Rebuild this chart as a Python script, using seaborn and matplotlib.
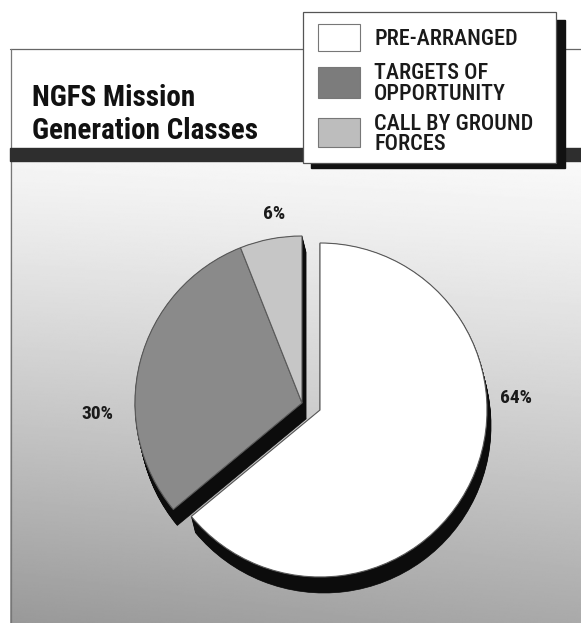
import numpy as np
import matplotlib
matplotlib.use("Agg")
import matplotlib.pyplot as plt
from matplotlib.patches import Rectangle
import seaborn as sns

# ---- data ----
categories = ["PRE-ARRANGED", "TARGETS OF\nOPPORTUNITY", "CALL BY GROUND\nFORCES"]
shares = [64, 30, 6]
pct_labels = ["64%", "30%", "6%"]
slice_colors = ["#ffffff", "#8a8a8a", "#c6c6c6"]
swatch_colors = ["#ffffff", "#7c7c7c", "#bdbdbd"]
title_lines = ["NGFS Mission", "Generation Classes"]

sns.set_theme(style="white")
plt.rcParams["font.family"] = ["Liberation Sans", "DejaVu Sans"]
TITLE_FONT = ["Roboto Condensed", "Barlow Condensed", "DejaVu Sans"]
LEG_FONT = ["Roboto Condensed", "Archivo Narrow", "Barlow Condensed", "DejaVu Sans"]

W, H = 581, 623
fig = plt.figure(figsize=(W / 100, H / 100), dpi=100)
fig.patch.set_facecolor("white")

# background axes in pixel coordinates
bg = fig.add_axes([0, 0, 1, 1])
bg.set_xlim(0, W)
bg.set_ylim(H, 0)
bg.axis("off")

# gradient panel
ys = np.linspace(0, 1, 300)[:, None]
xs = np.linspace(0, 1, 300)[None, :]
grad = 0.975 - 0.31 * ys ** 1.15 - 0.05 * (1 - xs) * (0.3 + ys)
bg.imshow(grad, extent=(10, W, H, 161), cmap="gray", vmin=0, vmax=1,
          aspect="auto", origin="upper", interpolation="bilinear", zorder=0)

# panel frame
bg.plot([10, W], [49, 49], color="#666666", lw=0.9, zorder=1)
bg.plot([10.5, 10.5], [49, H], color="#777777", lw=0.9, zorder=1)
bg.add_patch(Rectangle((10, 148), W - 10, 13, color="#2e2e2e", zorder=1))

# title
for i, line in enumerate(title_lines):
    bg.text(32, 106 + i * 33, line, fontsize=21, fontweight=900,
            family=TITLE_FONT, va="baseline", ha="left", color="#111111", zorder=2)

# legend with drop shadow
bg.add_patch(Rectangle((311, 20), 254, 148, color="#111111", zorder=3))
bg.add_patch(Rectangle((303, 12), 253, 151, facecolor="white",
                       edgecolor="#555555", lw=0.9, zorder=4))
sw_boxes = [(24, 27), (67, 31), (118, 29)]
text_baselines = [[45], [79, 100], [130, 150]]
for cat, col, (sy, sh), bls in zip(categories, swatch_colors, sw_boxes, text_baselines):
    bg.add_patch(Rectangle((318, sy), 42, sh, facecolor=col,
                           edgecolor="#777777", lw=0.8, zorder=5))
    for line, b in zip(cat.split("\n"), bls):
        bg.text(374, b, line, fontsize=16, family=LEG_FONT, fontweight="medium",
                va="baseline", ha="left", color="#1a1a1a", zorder=6)

# percentage labels
label_pos = [(516, 398), (97, 414), (274, 214)]
for lab, (lx, ly) in zip(pct_labels, label_pos):
    bg.text(lx, ly, lab, fontsize=14, fontweight="bold", family=TITLE_FONT,
            ha="center", va="center", color="#1a1a1a", zorder=6)

# pie axes: center at (320, 410) px, radius 167 px
R = 167.0
cx, cy = 320.0, 410.0
lim = 1.2
size = 2 * lim * R
ax = fig.add_axes([(cx - size / 2) / W, (H - cy - size / 2) / H, size / W, size / H])
ax.patch.set_alpha(0)

gdx, gdy = -18 / R, 7 / R  # exploded group offset (axis units)


def draw_pie(offx, offy, colors, ec, lw):
    wedges, _ = ax.pie(shares, colors=colors, startangle=90, counterclock=False,
                       center=(offx, offy), radius=1.0,
                       wedgeprops=dict(edgecolor=ec, linewidth=lw))
    for w in wedges[1:]:
        w.set_center((offx + gdx, offy + gdy))
    return wedges


# extruded shadow
for t in np.linspace(1, 0.02, 20):
    draw_pie(4 / R * t, -16 / R * t, ["#0c0c0c"] * 3, "#0c0c0c", 0.5)
# faces
draw_pie(0, 0, slice_colors, "#5a5a5a", 0.8)

ax.set_xlim(-lim, lim)
ax.set_ylim(-lim, lim)
ax.set_aspect("equal")
ax.axis("off")

fig.savefig("out.png", dpi=100)
